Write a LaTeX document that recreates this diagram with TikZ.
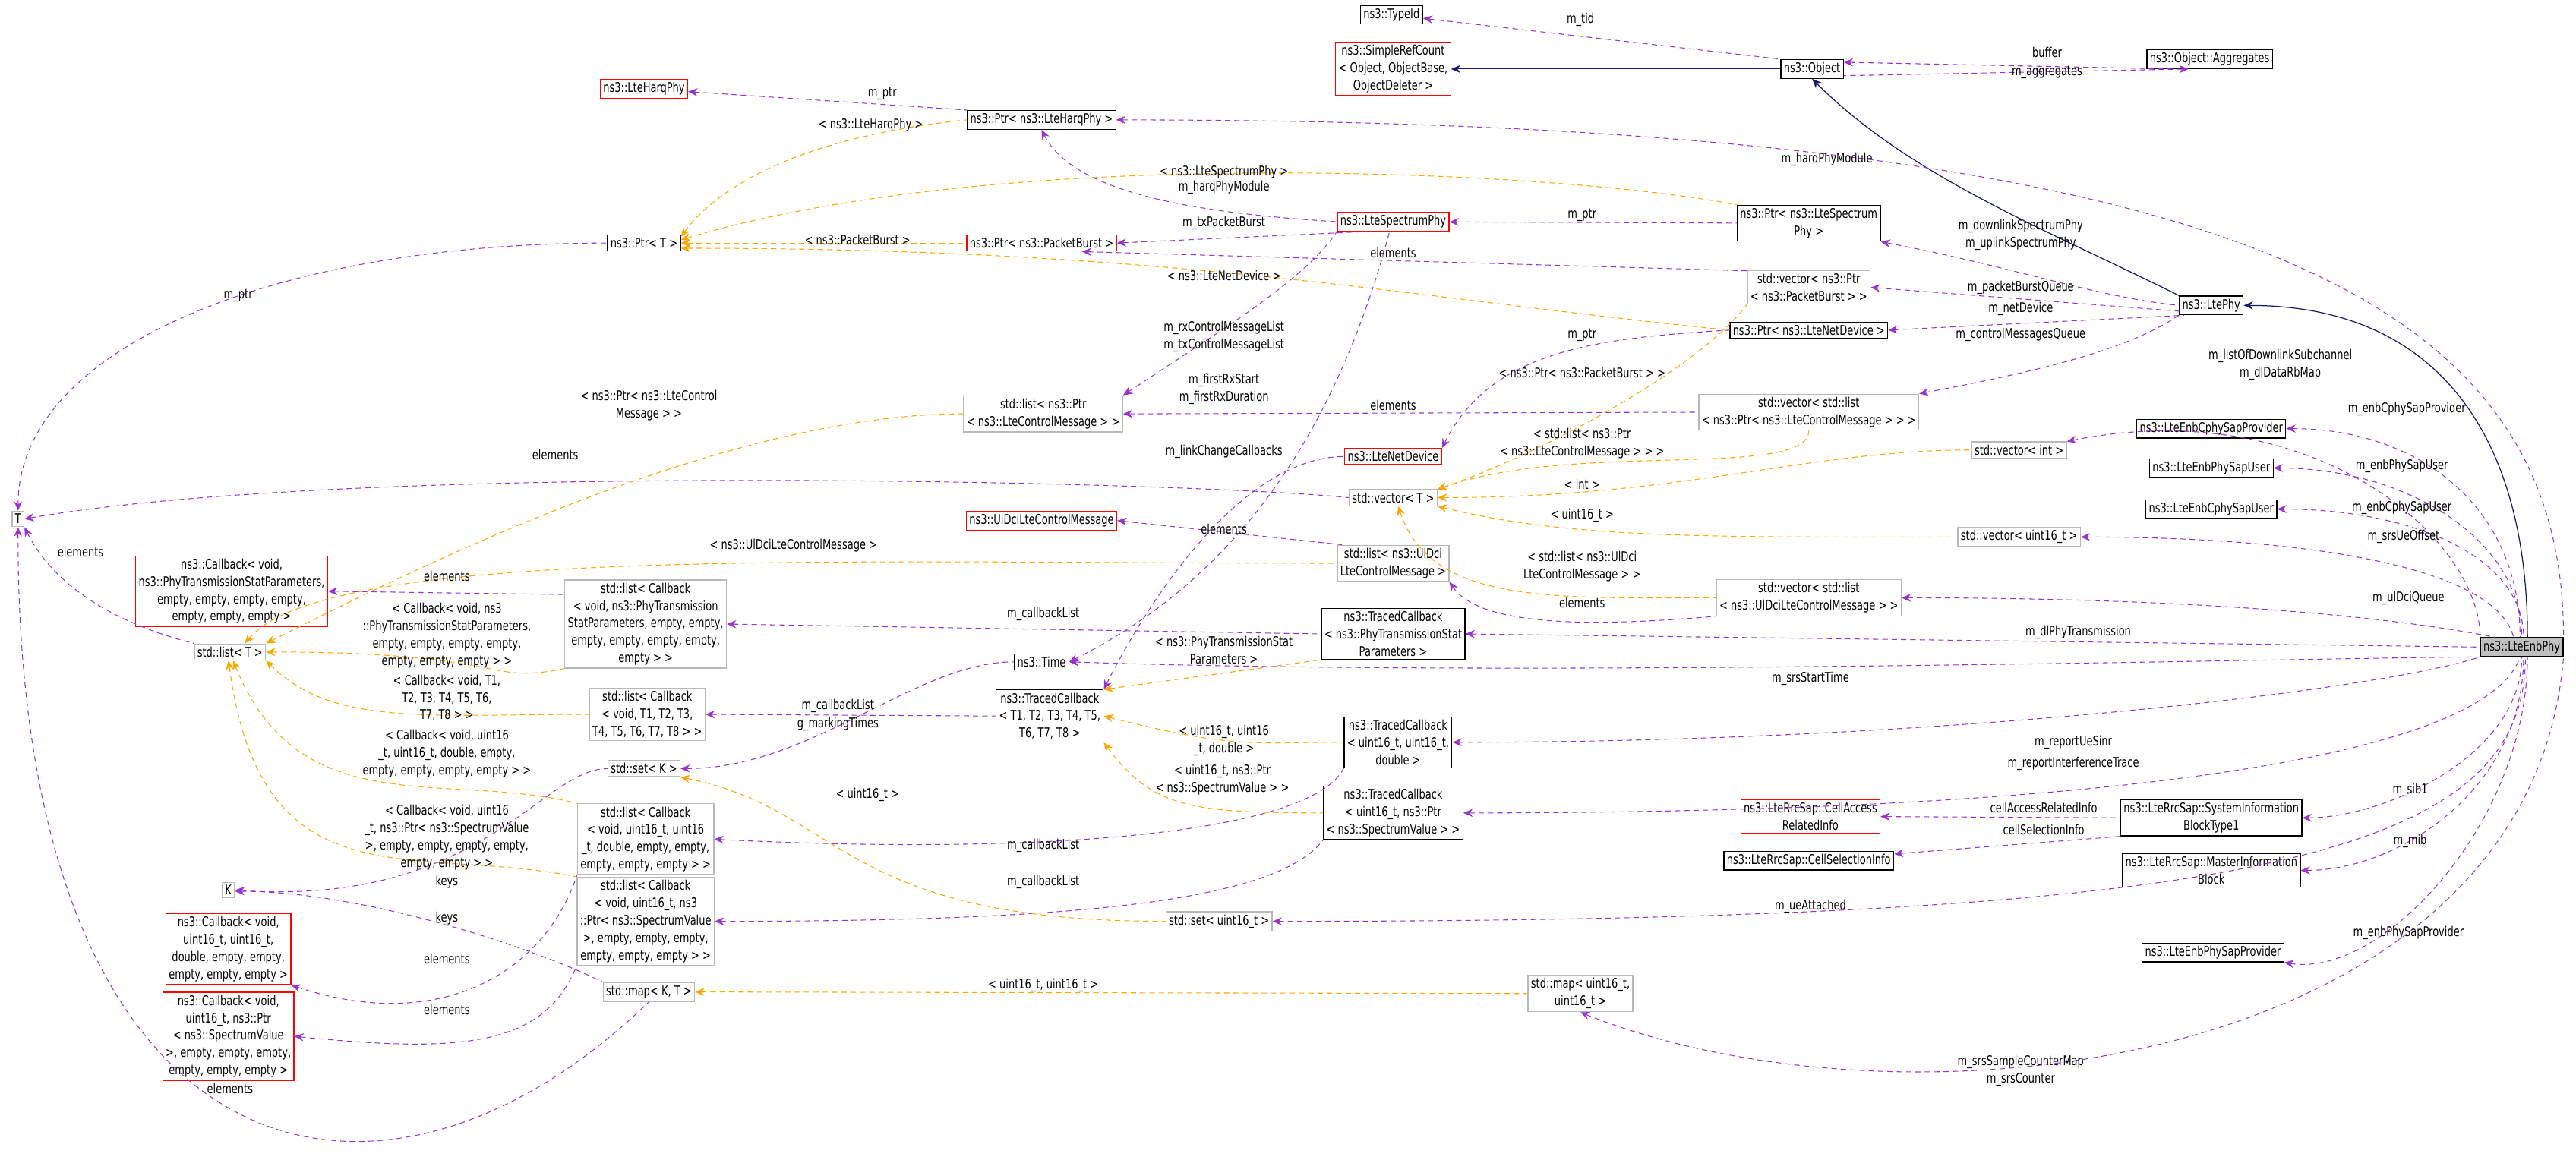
\documentclass[tikz,border=0pt]{standalone}
\usepackage{fontspec}
\setmainfont{DejaVu Sans}[FakeStretch=0.74]
\usetikzlibrary{arrows.meta}
\definecolor{mpurple}{HTML}{9A32CD}
\definecolor{morange}{HTML}{FFA500}
\definecolor{mnavy}{HTML}{191970}
\newcommand\dg{\fontsize{10}{13}\selectfont}
\tikzset{
  cls/.style={draw=black, fill=white, align=center, inner sep=2.2pt, line width=0.7pt, font=\dg},
  gcls/.style={cls, draw=black!28},
  rcls/.style={cls, draw=red},
  lbl/.style={align=center, font=\dg, inner sep=0pt},
  mem/.style={draw=mpurple, dash pattern=on 4pt off 3pt, line width=0.6pt, {Stealth[length=7pt,width=6pt]}-},
  tpl/.style={mem, draw=morange},
  inh/.style={draw=mnavy, line width=0.7pt, {Stealth[length=7pt,width=6pt]}-},
}
\begin{document}
\begin{tikzpicture}[x=0.04327cm, y=-0.04327cm]
\useasboundingbox (0,0) rectangle (1568,706);
% classes
\node[cls] (typeid) at (847,9) {ns3::TypeId};
\node[rcls] (srcount) at (848,42) {ns3::SimpleRefCount\\< Object, ObjectBase,\\ObjectDeleter >};
\node[cls] (object) at (1103,42) {ns3::Object};
\node[cls] (aggr) at (1345,36) {ns3::Object::Aggregates};
\node[rcls] (harqphy) at (392,54) {ns3::LteHarqPhy};
\node[cls] (ptrharq) at (634,73) {ns3::Ptr< ns3::LteHarqPhy >};
\node[cls] (ptrT) at (392,148) {ns3::Ptr< T >};
\node[rcls] (ptrpb) at (634,148) {ns3::Ptr< ns3::PacketBurst >};
\node[rcls] (spectrumphy) at (848,135) {ns3::LteSpectrumPhy};
\node[cls] (ptrspec) at (1101,136) {ns3::Ptr< ns3::LteSpectrum\\Phy >};
\node[gcls] (vecpb) at (1101,175) {std::vector< ns3::Ptr\\< ns3::PacketBurst > >};
\node[cls] (ptrnet) at (1101,201) {ns3::Ptr< ns3::LteNetDevice >};
\node[cls] (ltephy) at (1346,186) {ns3::LtePhy};
\node[gcls] (listctrl) at (635,252) {std::list< ns3::Ptr\\< ns3::LteControlMessage > >};
\node[gcls] (vecctrl) at (1101,251) {std::vector< std::list\\< ns3::Ptr< ns3::LteControlMessage > > >};
\node[rcls] (netdev) at (848,278) {ns3::LteNetDevice};
\node[gcls] (vecint) at (1229,274) {std::vector< int >};
\node[gcls] (vecT) at (848,303) {std::vector< T >};
\node[gcls] (T) at (11,316) {T};
\node[rcls] (ulci) at (634,317) {ns3::UlDciLteControlMessage};
\node[gcls] (vecu16) at (1229,327) {std::vector< uint16\_t >};
\node[gcls] (listul) at (848,343) {std::list< ns3::UlDci\\LteControlMessage >};
\node[rcls] (cbphy) at (141,360) {ns3::Callback< void,\\ ns3::PhyTransmissionStatParameters,\\empty, empty, empty, empty,\\ empty, empty, empty >};
\node[gcls] (listcbphy) at (393,380) {std::list< Callback\\< void, ns3::PhyTransmission\\StatParameters, empty, empty,\\empty, empty, empty, empty,\\empty > >};
\node[gcls] (vecvecul) at (1101,364) {std::vector< std::list\\< ns3::UlDciLteControlMessage > >};
\node[cls] (tcphy) at (848,386) {ns3::TracedCallback\\< ns3::PhyTransmissionStat\\Parameters >};
\node[cls, fill=black!25] (enbphy) at (1535,394) {ns3::LteEnbPhy};
\node[gcls] (listT) at (140,397) {std::list< T >};
\node[cls] (time) at (634,403) {ns3::Time};
\node[gcls] (listcbT) at (394,435) {std::list< Callback\\< void, T1, T2, T3,\\ T4, T5, T6, T7, T8 > >};
\node[cls] (tcT) at (639,436) {ns3::TracedCallback\\< T1, T2, T3, T4, T5,\\T6, T7, T8 >};
\node[gcls] (setK) at (392,468) {std::set< K >};
\node[cls] (tcu16) at (851,452) {ns3::TracedCallback\\< uint16\_t, uint16\_t,\\double >};
\node[gcls] (listcbu16d) at (393,511) {std::list< Callback\\< void, uint16\_t, uint16\\\_t, double, empty, empty,\\empty, empty, empty > >};
\node[cls] (tcspec) at (848,495) {ns3::TracedCallback\\< uint16\_t, ns3::Ptr\\< ns3::SpectrumValue > >};
\node[rcls] (cellacc) at (1102,497) {ns3::LteRrcSap::CellAccess\\RelatedInfo};
\node[cls] (sib1) at (1346,498) {ns3::LteRrcSap::SystemInformation\\BlockType1};
\node[cls] (cellsel) at (1101,524) {ns3::LteRrcSap::CellSelectionInfo};
\node[cls] (mib) at (1346,530) {ns3::LteRrcSap::MasterInformation\\Block};
\node[gcls] (listcbspec) at (393,561) {std::list< Callback\\< void, uint16\_t, ns3\\::Ptr< ns3::SpectrumValue\\>, empty, empty, empty,\\empty, empty, empty > >};
\node[gcls] (K) at (139,542) {K};
\node[gcls] (setu16) at (742,561) {std::set< uint16\_t >};
\node[rcls] (cbu16d) at (139,578) {ns3::Callback< void,\\uint16\_t, uint16\_t,\\double, empty, empty,\\empty, empty, empty >};
\node[cls] (phyprov) at (1347,580) {ns3::LteEnbPhySapProvider};
\node[gcls] (mapKT) at (395,604) {std::map< K, T >};
\node[gcls] (mapu16) at (962,605) {std::map< uint16\_t,\\uint16\_t >};
\node[rcls] (cbspec) at (139,631) {ns3::Callback< void,\\uint16\_t, ns3::Ptr\\< ns3::SpectrumValue\\>, empty, empty, empty,\\empty, empty, empty >};
\node[cls] (cphyprov) at (1346,261) {ns3::LteEnbCphySapProvider};
\node[cls] (physapuser) at (1346,285) {ns3::LteEnbPhySapUser};
\node[cls] (cphyuser) at (1346,310) {ns3::LteEnbCphySapUser};

% inheritance
\draw[inh] (srcount) -- (object);
\draw[inh] (object.south) .. controls +(60,60) and +(-80,-40) .. (ltephy.north west);
\draw[inh] (ltephy.east) .. controls +(120,0) and +(0,-120) .. (enbphy.60);

% members
\draw[mem] (typeid) -- (object.north west);
\draw[mem] (object.12) -- (aggr.195);
\draw[mem] (aggr.205) -- (object.-12);
\draw[mem] (harqphy) -- (ptrharq.north west);
\draw[mem] (ptrharq.east) .. controls +(700,0) and +(0,-200) .. (enbphy.north east);
\draw[mem] (ptrharq.south) .. controls +(20,40) and +(-80,-5) .. (spectrumphy.west);
\draw[mem] (ptrpb.east) -- (spectrumphy.200);
\draw[mem] (ptrpb.-12) -- (vecpb.165);
\draw[mem] (spectrumphy) -- (ptrspec);
\draw[mem] (ptrspec.south east) .. controls +(80,15) and +(-50,-5) .. (ltephy.west);
\draw[mem] (vecpb.east) -- (ltephy.190);
\draw[mem] (ptrnet.east) -- (ltephy.200);
\draw[mem] (vecctrl.north east) .. controls +(80,-15) and +(-30,20) .. (ltephy.south west);
\draw[mem] (netdev.north east) .. controls +(30,-60) and +(-80,5) .. (ptrnet.west);
\draw[mem] (listctrl.north east) .. controls +(60,-40) and +(-20,30) .. (spectrumphy.south west);
\draw[mem] (listctrl.east) -- (vecctrl.west);
\draw[mem] (time.east) .. controls +(80,-40) and +(-40,150) .. (spectrumphy.250);
\draw[mem] (tcT.north east) .. controls +(30,-60) and +(-60,0) .. (netdev.west);
\draw[mem] (T.east) .. controls +(200,-35) and +(-100,-10) .. (vecT.west);
\draw[mem] (T.north) .. controls +(0,-100) and +(-200,0) .. (ptrT.west);
\draw[mem] (T.south east) .. controls +(20,40) and +(-40,-10) .. (listT.north west);
\draw[mem] (T.south) .. controls (10,720) and (230,770) .. (mapKT.south);
\draw[mem] (cbphy.east) -- (listcbphy.160);
\draw[mem] (listcbphy.east) -- (tcphy.west);
\draw[mem] (listcbT.east) -- (tcT.west);
\draw[mem] (setK.east) .. controls +(80,0) and +(-60,0) .. (time.west);
\draw[mem] (listcbu16d.east) .. controls +(200,10) and +(-20,40) .. (tcu16.south west);
\draw[mem] (listcbspec.east) .. controls +(200,0) and +(-30,40) .. (tcspec.south west);
\draw[mem] (cbu16d.south east) .. controls +(90,30) and +(-20,60) .. (listcbu16d.south west);
\draw[mem] (cbspec.east) .. controls +(100,10) and +(-20,50) .. (listcbspec.south west);
\draw[mem] (K.east) .. controls +(150,10) and +(-40,0) .. (setK.west);
\draw[mem] (K.-10) .. controls +(80,0) and +(-40,-20) .. (mapKT.north west);
\draw[mem] (ulci.east) -- (listul.160);
\draw[mem] (listul.south east) .. controls +(20,30) and +(-60,5) .. (vecvecul.south west);
\draw[mem] (cellacc) -- (sib1.west);
\draw[mem] (cellsel) -- (sib1.south west);
% members of ns3::LteEnbPhy
\draw[mem] (vecint.north east) .. controls +(150,-30) and +(0,-60) .. (enbphy.north west);
\draw[mem] (cphyprov.east) .. controls +(80,0) and +(0,-80) .. (enbphy.100);
\draw[mem] (physapuser.east) .. controls +(80,0) and +(0,-60) .. (enbphy.north);
\draw[mem] (cphyuser.east) .. controls +(80,0) and +(0,-50) .. (enbphy.80);
\draw[mem] (vecu16.east) .. controls +(150,0) and +(-10,-40) .. (enbphy.130);
\draw[mem] (vecvecul.east) .. controls +(200,0) and +(-50,-10) .. (enbphy.160);
\draw[mem] (tcphy.east) -- (enbphy.west);
\draw[mem] (time.east) .. controls +(300,10) and +(-100,0) .. (enbphy.200);
\draw[mem] (tcu16.east) .. controls +(300,0) and +(-60,20) .. (enbphy.south west);
\draw[mem] (tcspec.east) .. controls +(400,0) and +(-20,60) .. (enbphy.260);
\draw[mem] (sib1.east) .. controls +(50,0) and +(0,60) .. (enbphy.south);
\draw[mem] (mib.east) .. controls +(60,0) and +(0,80) .. (enbphy.280);
\draw[mem] (setu16.east) .. controls +(600,0) and +(0,120) .. (enbphy.290);
\draw[mem] (phyprov.south east) .. controls +(60,10) and +(0,100) .. (enbphy.300);
\draw[mem] (mapu16.south) .. controls +(200,80) and +(-20,250) .. (enbphy.south east);

% template instances
\draw[tpl] (ptrT.10) .. controls +(30,-40) and +(-80,8) .. (ptrharq.west);
\draw[tpl] (ptrT.5) .. controls +(200,-60) and +(-100,-20) .. (ptrspec.north west);
\draw[tpl] (ptrT.east) -- (ptrpb.west);
\draw[tpl] (ptrT.-8) .. controls +(300,0) and +(-200,-20) .. (ptrnet.west);
\draw[tpl] (listT.north east) .. controls +(80,-40) and +(-150,0) .. (listctrl.west);
\draw[tpl] (listT.30) .. controls +(50,-60) and +(-300,0) .. (listul.west);
\draw[tpl] (listT.east) .. controls +(150,0) and +(-50,10) .. (listcbphy.south west);
\draw[tpl] (listT.south east) .. controls +(40,40) and +(-100,0) .. (listcbT.west);
\draw[tpl] (listT.-70) .. controls +(40,100) and +(-80,-20) .. (listcbu16d.north west);
\draw[tpl] (listT.-100) .. controls +(20,150) and +(-100,-20) .. (listcbspec.north west);
\draw[tpl] (vecT.north east) .. controls +(60,-20) and +(-30,40) .. (vecpb.south west);
\draw[tpl] (vecT.10) .. controls +(80,-30) and +(0,30) .. (vecctrl.south);
\draw[tpl] (vecT.east) .. controls +(150,0) and +(-100,0) .. (vecint.west);
\draw[tpl] (vecT.south east) .. controls +(80,20) and +(-150,0) .. (vecu16.west);
\draw[tpl] (vecT.-60) .. controls +(20,60) and +(-100,0) .. (vecvecul.west);
\draw[tpl] (tcT.north east) -- (tcphy.south west);
\draw[tpl] (tcT.east) .. controls +(80,20) and +(-60,0) .. (tcu16.west);
\draw[tpl] (tcT.south east) .. controls +(30,40) and +(-80,0) .. (tcspec.west);
\draw[tpl] (setK.south east) .. controls +(100,20) and +(-200,0) .. (setu16.west);
\draw[tpl] (mapKT.east) -- (mapu16.west);

% labels
\node[lbl] (l_tid) at (962,12) {m\_tid};
\node[lbl] (l_buf) at (1246,32) {buffer};
\node[lbl] (l_agg) at (1246,44) {m\_aggregates};
\node[lbl] (l_hptr) at (537,57) {m\_ptr};
\node[lbl] (l_htpl) at (530,76) {< ns3::LteHarqPhy >};
\node[lbl] (l_hpm) at (1112,97) {m\_harqPhyModule};
\node[lbl] (l_stpl) at (745,105) {< ns3::LteSpectrumPhy >};
\node[lbl] (l_hpm2) at (745,114) {m\_harqPhyModule};
\node[lbl] (l_txpb) at (745,136) {m\_txPacketBurst};
\node[lbl] (l_sptr) at (963,131) {m\_ptr};
\node[lbl] (l_pbtpl) at (522,146) {< ns3::PacketBurst >};
\node[lbl] (l_pbel) at (848,154) {elements};
\node[lbl] (l_ndtpl) at (745,168) {< ns3::LteNetDevice >};
\node[lbl] (l_tptr) at (145,180) {m\_ptr};
\node[lbl] (l_dlul) at (1230,143) {m\_downlinkSpectrumPhy\\m\_uplinkSpectrumPhy};
\node[lbl] (l_pbq) at (1230,175) {m\_packetBurstQueue};
\node[lbl] (l_nd) at (1230,188) {m\_netDevice};
\node[lbl] (l_cmq) at (1230,204) {m\_controlMessagesQueue};
\node[lbl] (l_rxtx) at (745,205) {m\_rxControlMessageList\\m\_txControlMessageList};
\node[lbl] (l_nptr) at (963,204) {m\_ptr};
\node[lbl] (l_list) at (1388,222) {m\_listOfDownlinkSubchannel\\m\_dlDataRbMap};
\node[lbl] (l_frx) at (745,237) {m\_firstRxStart\\m\_firstRxDuration};
\node[lbl] (l_vpbtpl) at (963,227) {< ns3::Ptr< ns3::PacketBurst > >};
\node[lbl] (l_ctrlel) at (848,247) {elements};
\node[lbl] (l_lctpl) at (395,247) {< ns3::Ptr< ns3::LteControl\\Message > >};
\node[lbl] (l_cprov) at (1465,249) {m\_enbCphySapProvider};
\node[lbl] (l_vctpl) at (963,270) {< std::list< ns3::Ptr\\< ns3::LteControlMessage > > >};
\node[lbl] (l_link) at (745,275) {m\_linkChangeCallbacks};
\node[lbl] (l_tel) at (338,277) {elements};
\node[lbl] (l_puser) at (1462,284) {m\_enbPhySapUser};
\node[lbl] (l_int) at (963,295) {< int >};
\node[lbl] (l_cuser) at (1462,309) {m\_enbCphySapUser};
\node[lbl] (l_u16) at (963,314) {< uint16\_t >};
\node[lbl] (l_ulel) at (745,322) {elements};
\node[lbl] (l_srsoff) at (1463,327) {m\_srsUeOffset};
\node[lbl] (l_ultpl) at (483,332) {< ns3::UlDciLteControlMessage >};
\node[lbl] (l_vultpl) at (963,345) {< std::list< ns3::UlDci\\LteControlMessage > >};
\node[lbl] (l_Tel) at (49,336) {elements};
\node[lbl] (l_cbel) at (272,351) {elements};
\node[lbl] (l_vulel) at (963,367) {elements};
\node[lbl] (l_dci) at (1466,364) {m\_ulDciQueue};
\node[lbl] (l_cbl1) at (635,374) {m\_callbackList};
\node[lbl] (l_cbphytpl) at (272,387) {< Callback< void, ns3\\::PhyTransmissionStatParameters,\\empty, empty, empty, empty,\\empty, empty, empty > >};
\node[lbl] (l_dlphy) at (1265,385) {m\_dlPhyTransmission};
\node[lbl] (l_tcphytpl) at (745,396) {< ns3::PhyTransmissionStat\\Parameters >};
\node[lbl] (l_srst) at (1102,413) {m\_srsStartTime};
\node[lbl] (l_cbTtpl) at (272,425) {< Callback< void, T1,\\T2, T3, T4, T5, T6,\\T7, T8 > >};
\node[lbl] (l_cbl2) at (510,430) {m\_callbackList};
\node[lbl] (l_gmt) at (510,441) {g\_markingTimes};
\node[lbl] (l_tcu16tpl) at (745,451) {< uint16\_t, uint16\\\_t, double >};
\node[lbl] (l_sinr) at (1262,452) {m\_reportUeSinr};
\node[lbl] (l_cbu16tpl) at (272,459) {< Callback< void, uint16\\\_t, uint16\_t, double, empty,\\empty, empty, empty, empty > >};
\node[lbl] (l_interf) at (1262,465) {m\_reportInterferenceTrace};
\node[lbl] (l_tcspectpl) at (744,475) {< uint16\_t, ns3::Ptr\\< ns3::SpectrumValue > >};
\node[lbl] (l_setu16) at (528,484) {< uint16\_t >};
\node[lbl] (l_sib1) at (1467,481) {m\_sib1};
\node[lbl] (l_cari) at (1244,492) {cellAccessRelatedInfo};
\node[lbl] (l_csi) at (1244,505) {cellSelectionInfo};
\node[lbl] (l_cbspectpl) at (272,510) {< Callback< void, uint16\\\_t, ns3::Ptr< ns3::SpectrumValue\\>, empty, empty, empty, empty,\\empty, empty > >};
\node[lbl] (l_mib) at (1467,512) {m\_mib};
\node[lbl] (l_cbl3) at (635,515) {m\_callbackList};
\node[lbl] (l_keys1) at (272,537) {keys};
\node[lbl] (l_cbl4) at (635,537) {m\_callbackList};
\node[lbl] (l_uea) at (1102,552) {m\_ueAttached};
\node[lbl] (l_keys2) at (272,559) {keys};
\node[lbl] (l_pprov) at (1466,568) {m\_enbPhySapProvider};
\node[lbl] (l_el3) at (272,584) {elements};
\node[lbl] (l_maptpl) at (635,600) {< uint16\_t, uint16\_t >};
\node[lbl] (l_el4) at (272,615) {elements};
\node[lbl] (l_srsc) at (1230,652) {m\_srsSampleCounterMap\\m\_srsCounter};
\node[lbl] (l_el5) at (140,663) {elements};
\end{tikzpicture}
\end{document}
